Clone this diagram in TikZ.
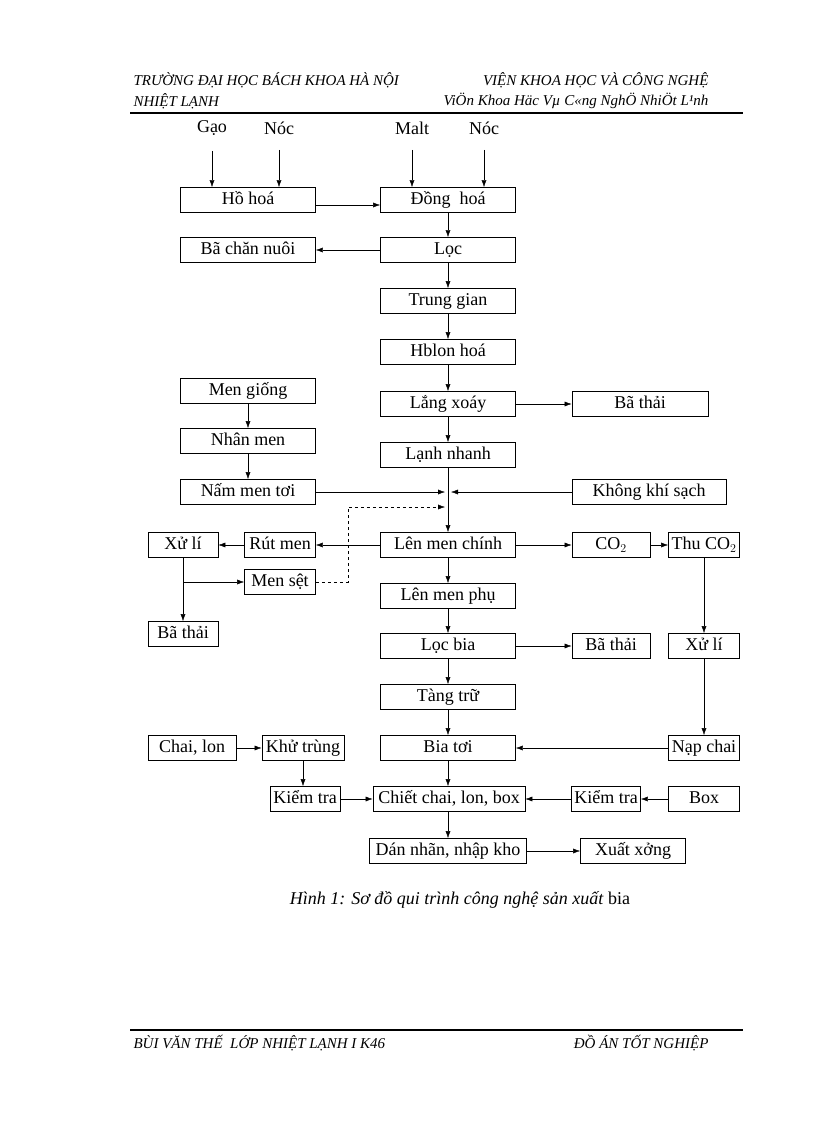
\documentclass[tikz,border=0pt]{standalone}
\usepackage{fontspec}
\usetikzlibrary{arrows.meta}
\setmainfont{Liberation Serif}
\begin{document}
\begin{tikzpicture}[x=1pt,y=-1pt,
 b/.style={draw,thick,minimum height=25pt,inner sep=1pt,text height=12pt,text depth=3pt,font=\fontsize{18}{18}\selectfont},
 t/.style={font=\fontsize{18}{18}\selectfont},
 h/.style={font=\fontsize{15}{15}\selectfont\itshape},
 a/.style={-{Latex[length=7pt,width=5pt]},thin},
 every path/.style={thin}]
\useasboundingbox (0,0) rectangle (816,1123);
% header
\node[h,anchor=west] (h1) at (130,80) {TRƯỜNG ĐẠI HỌC BÁCH KHOA HÀ NỘI};
\node[h,anchor=east] (h2) at (712,80) {VIỆN KHOA HỌC VÀ CÔNG NGHỆ};
\node[h,anchor=west] (h3) at (130,101) {NHIỆT LẠNH};
\node[h,anchor=east] (h4) at (712,101) {ViÖn Khoa Häc Vµ C«ng NghÖ NhiÖt L¹nh};
\draw[line width=1.2pt] (130,113) -- (743,113);
\draw[line width=1.2pt] (130,1030) -- (743,1030);
\node[h,anchor=west] (f1) at (130,1043) {BÙI VĂN THẾ \ LỚP NHIỆT LẠNH I K46};
\node[h,anchor=east] (f2) at (712,1043) {ĐỒ ÁN TỐT NGHIỆP};
\node[font=\fontsize{18}{18}\selectfont] (cap) at (460,900) {\textit{Hình 1: Sơ đồ qui trình công nghệ sản xuất} bia};
% inputs
\node[t] (gao) at (212,128) {Gạo};
\node[t] (n1) at (279,128) {Nóc};
\node[t] (malt) at (412,128) {Malt};
\node[t] (n2) at (484,128) {Nóc};
% boxes
\node[b,minimum width=135pt] (ho) at (248,200) {Hồ hoá};
\node[b,minimum width=135pt] (dong) at (448,200) {Đồng \ hoá};
\node[b,minimum width=135pt] (bacn) at (248,250) {Bã chăn nuôi};
\node[b,minimum width=135pt] (loc) at (448,250) {Lọc};
\node[b,minimum width=135pt] (tg) at (448,301) {Trung gian};
\node[b,minimum width=135pt] (hb) at (448,352) {Hblon hoá};
\node[b,minimum width=135pt] (lx) at (448,404) {Lắng xoáy};
\node[b,minimum width=136pt] (bt1) at (640,404) {Bã thải};
\node[b,minimum width=135pt] (ln) at (448,455) {Lạnh nhanh};
\node[b,minimum width=135pt] (mg) at (248,391) {Men giống};
\node[b,minimum width=135pt] (nm) at (248,441) {Nhân men};
\node[b,minimum width=135pt] (nmt) at (248,492) {Nấm men tơi};
\node[b,minimum width=154pt] (kk) at (649,492) {Không khí sạch};
\node[b,minimum width=135pt] (lmc) at (448,545) {Lên men chính};
\node[b,minimum width=78pt] (co2) at (611,545) {CO$_2$};
\node[b,minimum width=71pt,inner sep=0pt] (thu) at (704,545) {Thu CO$_2$};
\node[b,minimum width=71pt,inner sep=0pt] (rut) at (280,545) {Rút men};
\node[b,minimum width=70pt] (xl1) at (183,545) {Xử lí};
\node[b,minimum width=71pt] (ms) at (280,582) {Men sệt};
\node[b,minimum width=70pt] (bt2) at (183,634) {Bã thải};
\node[b,minimum width=135pt] (lmp) at (448,596) {Lên men phụ};
\node[b,minimum width=135pt] (lb) at (448,646) {Lọc bia};
\node[b,minimum width=78pt] (bt3) at (611,646) {Bã thải};
\node[b,minimum width=71pt] (xl2) at (704,646) {Xử lí};
\node[b,minimum width=135pt] (tt) at (448,697) {Tàng trữ};
\node[b,minimum width=135pt] (bia) at (448,748) {Bia tơi};
\node[b,minimum width=71pt,inner sep=0pt] (nap) at (704,748) {Nạp chai};
\node[b,minimum width=88pt] (cl) at (192,748) {Chai, lon};
\node[b,minimum width=82pt,inner sep=0pt] (kt) at (303,748) {Khử trùng};
\node[b,minimum width=70pt,inner sep=0pt] (kt1) at (305,799) {Kiểm tra};
\node[b,minimum width=152pt] (chiet) at (449,799) {Chiết chai, lon, box};
\node[b,minimum width=69pt,inner sep=0pt] (kt2) at (606,799) {Kiểm tra};
\node[b,minimum width=71pt] (box) at (704,799) {Box};
\node[b,minimum width=157pt] (dan) at (448,851) {Dán nhãn, nhập kho};
\node[b,minimum width=105pt] (xx) at (633,851) {Xuất xởng};
\coordinate (jl) at (445,492);
\coordinate (jr) at (451,492);
\coordinate (jd) at (445,507);
\coordinate (d1) at (348,582);
\coordinate (d2) at (348,507);
\coordinate (br) at (183,582);
% connectors
\draw[a] ([yshift=-12pt]gao.south) -- (gao|-ho.north);
\draw[a] ([yshift=-12pt]n1.south) -- (n1|-ho.north);
\draw[a] ([yshift=-12pt]malt.south) -- (malt|-dong.north);
\draw[a] ([yshift=-12pt]n2.south) -- (n2|-dong.north);
\draw[a] ([yshift=-5pt]ho.east) -- ([yshift=-5pt]dong.west);
\draw[a] (dong) -- (loc);
\draw[a] (loc) -- (bacn);
\draw[a] (loc) -- (tg);
\draw[a] (tg) -- (hb);
\draw[a] (hb) -- (lx);
\draw[a] (lx) -- (bt1);
\draw[a] (lx) -- (ln);
\draw[a] (mg) -- (nm);
\draw[a] (nm) -- (nmt);
\draw[a] (nmt.east) -- (jl);
\draw[a] (kk.west) -- (jr);
\draw[a] (ln.south) -- (lmc.north);
\draw[a,dashed] (ms.east) -- (d1) -- (d2) -- (jd);
\draw[a] (lmc) -- (rut);
\draw[a] (rut) -- (xl1);
\draw[a] (xl1) -- (bt2);
\draw[a] (br) -- (ms.west);
\draw[a] (lmc) -- (co2);
\draw[a] (co2) -- (thu);
\draw[a] (thu) -- (xl2);
\draw[a] (lmc) -- (lmp);
\draw[a] (lmp) -- (lb);
\draw[a] (lb) -- (bt3);
\draw[a] (lb) -- (tt);
\draw[a] (tt) -- (bia);
\draw[a] (xl2) -- (nap);
\draw[a] (nap) -- (bia);
\draw[a] (cl) -- (kt);
\draw[a] (kt) -- (kt|-kt1.north);
\draw[a] (kt1) -- (chiet);
\draw[a] (bia) -- (bia|-chiet.north);
\draw[a] (box) -- (kt2);
\draw[a] (kt2) -- (chiet);
\draw[a] (dan|-chiet.south) -- (dan.north);
\draw[a] (dan) -- (xx);
\end{tikzpicture}
\end{document}
